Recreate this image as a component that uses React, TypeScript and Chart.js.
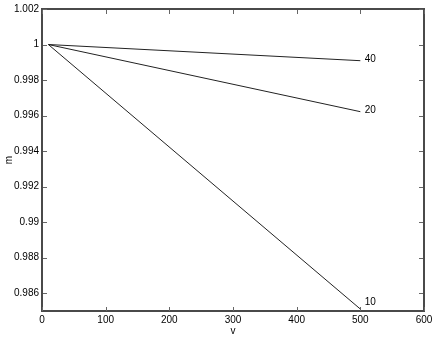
import React, { useEffect, useRef } from "react";
import { Chart, registerables } from "chart.js";

Chart.register(...registerables);

const vValues = [10, 500];
const seriesLabels = ["40", "20", "10"];
const series40 = [1.0, 0.99909];
const series20 = [1.0, 0.99622];
const series10 = [1.0, 0.98511];
const xTicks = [0, 100, 200, 300, 400, 500, 600];
const yTicks = [0.986, 0.988, 0.99, 0.992, 0.994, 0.996, 0.998, 1, 1.002];
const labelX = 507;

const FONT = "'Liberation Sans', Arial, Helvetica, sans-serif";
const INK = "#222";

const boxPlugin = {
  id: "matlabBox",
  afterDraw(chart: any) {
    const { ctx, chartArea: a, scales } = chart;
    const xs = scales.x;
    const ys = scales.y;
    ctx.save();
    const L = Math.round(a.left);
    const R = Math.round(a.right);
    const T = Math.round(a.top);
    const B = Math.round(a.bottom);
    ctx.fillStyle = "#4a4a4a";
    ctx.fillRect(L - 1, T - 1, R - L + 2, 2);
    ctx.fillRect(L - 1, B - 1, R - L + 2, 2);
    ctx.fillRect(L - 1, T - 1, 2, B - T + 2);
    ctx.fillRect(R - 1, T - 1, 2, B - T + 2);
    const tl = 4;
    ctx.fillStyle = "#666";
    xTicks.forEach((v) => {
      const px = Math.round(xs.getPixelForValue(v));
      ctx.fillRect(px, B - tl, 1, tl);
      ctx.fillRect(px, T + 1, 1, tl);
    });
    yTicks.forEach((v) => {
      const py = Math.round(ys.getPixelForValue(v));
      ctx.fillRect(L + 1, py, tl, 1);
      ctx.fillRect(R - tl - 1, py, tl, 1);
    });
    // series end labels
    ctx.fillStyle = "#000";
    ctx.font = `10px ${FONT}`;
    ctx.textAlign = "left";
    ctx.textBaseline = "middle";
    const ends = [series40[1], series20[1], series10[1]];
    seriesLabels.forEach((t, i) => {
      const py = ys.getPixelForValue(ends[i]) - (i === 2 ? 7 : 1);
      ctx.fillText(t, xs.getPixelForValue(labelX), py);
    });
    ctx.restore();
  },
};

export default function App() {
  const ref = useRef<HTMLCanvasElement | null>(null);
  useEffect(() => {
    if (!ref.current) return;
    const mk = (vals: number[]) => vValues.map((x, i) => ({ x, y: vals[i] }));
    const ds = (vals: number[], label: string) => ({
      label,
      data: mk(vals),
      borderColor: INK,
      borderWidth: 1,
      pointRadius: 0,
      fill: false,
      tension: 0,
    });
    const chart = new Chart(ref.current, {
      type: "line",
      data: {
        datasets: [ds(series40, "40"), ds(series20, "20"), ds(series10, "10")],
      },
      options: {
        animation: false,
        responsive: false,
        maintainAspectRatio: false,
        layout: { padding: { top: 9, right: 12, left: 0, bottom: 0 } },
        plugins: { legend: { display: false }, tooltip: { enabled: false } },
        scales: {
          x: {
            type: "linear",
            min: 0,
            max: 600,
            grid: { display: false, drawTicks: false },
            border: { display: false },
            afterBuildTicks: (s: any) => {
              s.ticks = xTicks.map((value) => ({ value }));
            },
            afterFit: (s: any) => {
              s.height = 26;
            },
            ticks: {
              color: "#000",
              font: { family: FONT, size: 10 },
              padding: 3,
              maxRotation: 0,
              autoSkip: false,
              callback: (v: any) => String(v),
            },
            title: {
              display: true,
              text: "v",
              color: "#000",
              font: { family: FONT, size: 10 },
              padding: 0,
            },
          },
          y: {
            type: "linear",
            min: 0.985,
            max: 1.002,
            grid: { display: false, drawTicks: false },
            border: { display: false },
            afterBuildTicks: (s: any) => {
              s.ticks = yTicks.map((value) => ({ value }));
            },
            afterFit: (s: any) => {
              s.width = 42;
            },
            ticks: {
              color: "#000",
              font: { family: FONT, size: 10 },
              padding: 3,
              autoSkip: false,
              callback: (v: any) => String(Number(v.toFixed(3))),
            },
            title: {
              display: true,
              text: "m",
              color: "#000",
              font: { family: FONT, size: 10 },
              padding: 3,
            },
          },
        },
      },
      plugins: [boxPlugin],
    });
    return () => chart.destroy();
  }, []);
  return (
    <div style={{ position: "fixed", left: 0, top: 0, width: 436, height: 337, background: "#fff" }}>
      <canvas ref={ref} width={436} height={337} style={{ width: 436, height: 337, display: "block" }} />
    </div>
  );
}
